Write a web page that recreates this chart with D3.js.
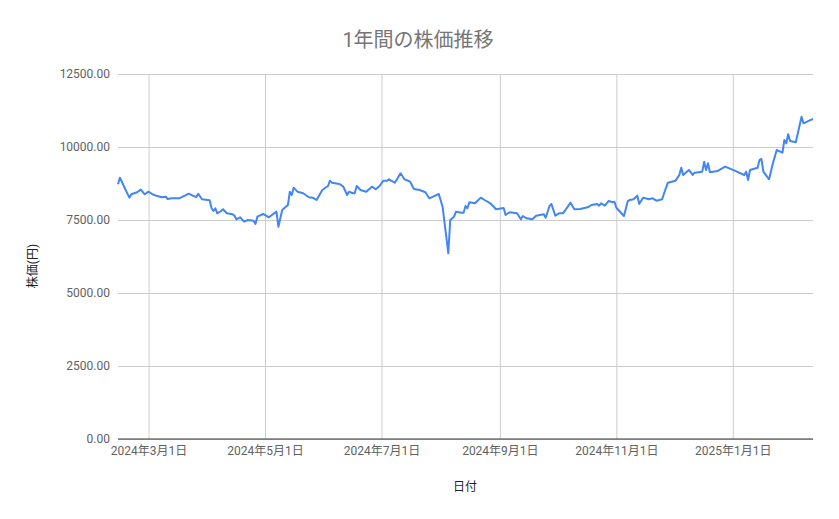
<!DOCTYPE html>
<html>
<head>
<meta charset="utf-8">
<script src="https://cdn.jsdelivr.net/npm/d3@7"></script>
<style>
  body { margin: 0; background: #fff; }
  text { font-family: Roboto, "Noto Sans CJK JP", sans-serif; }
</style>
</head>
<body>
<div id="chart"></div>
<script>
// daily closing values
const dates = [
  "2024-02-14","2024-02-15","2024-02-16","2024-02-18","2024-02-20","2024-02-21","2024-02-24","2024-02-26","2024-02-28",
  "2024-03-01","2024-03-03","2024-03-05","2024-03-08","2024-03-10","2024-03-11","2024-03-13","2024-03-17","2024-03-20",
  "2024-03-22","2024-03-25","2024-03-26","2024-03-27","2024-03-29","2024-03-31",
  "2024-04-02","2024-04-03","2024-04-04","2024-04-05","2024-04-06","2024-04-08","2024-04-09","2024-04-11","2024-04-14",
  "2024-04-15","2024-04-16","2024-04-18","2024-04-20","2024-04-22","2024-04-25","2024-04-26","2024-04-27","2024-04-30",
  "2024-05-03","2024-05-07","2024-05-08","2024-05-10","2024-05-13","2024-05-14","2024-05-15","2024-05-16","2024-05-18",
  "2024-05-21","2024-05-24","2024-05-26","2024-05-28","2024-05-31",
  "2024-06-02","2024-06-03","2024-06-04","2024-06-05","2024-06-09","2024-06-11","2024-06-13","2024-06-14","2024-06-16",
  "2024-06-17","2024-06-18","2024-06-20","2024-06-23","2024-06-26","2024-06-28","2024-06-30",
  "2024-07-02","2024-07-04","2024-07-05","2024-07-06","2024-07-08","2024-07-11","2024-07-13","2024-07-16","2024-07-18",
  "2024-07-21","2024-07-24","2024-07-26","2024-07-28","2024-07-31",
  "2024-08-02","2024-08-05","2024-08-06","2024-08-08","2024-08-09","2024-08-12","2024-08-13","2024-08-14","2024-08-15",
  "2024-08-16","2024-08-19","2024-08-22","2024-08-24","2024-08-27","2024-08-30",
  "2024-09-03","2024-09-04","2024-09-06","2024-09-10","2024-09-12","2024-09-13","2024-09-15","2024-09-18","2024-09-20",
  "2024-09-24","2024-09-25","2024-09-27","2024-09-28","2024-09-30",
  "2024-10-02","2024-10-04","2024-10-05","2024-10-08","2024-10-10","2024-10-13","2024-10-17","2024-10-19","2024-10-22",
  "2024-10-23","2024-10-24","2024-10-26","2024-10-28","2024-10-30","2024-10-31",
  "2024-11-01","2024-11-05","2024-11-07","2024-11-08","2024-11-10","2024-11-12","2024-11-13","2024-11-15","2024-11-18",
  "2024-11-20","2024-11-22","2024-11-25","2024-11-26","2024-11-28",
  "2024-12-02","2024-12-04","2024-12-05","2024-12-06","2024-12-09","2024-12-11","2024-12-12","2024-12-16","2024-12-17",
  "2024-12-18","2024-12-19","2024-12-20","2024-12-24","2024-12-25","2024-12-28",
  "2025-01-02","2025-01-07","2025-01-08","2025-01-09","2025-01-10","2025-01-14","2025-01-15","2025-01-16","2025-01-17",
  "2025-01-20","2025-01-22","2025-01-24","2025-01-27","2025-01-28","2025-01-29","2025-01-30","2025-01-31",
  "2025-02-03","2025-02-06","2025-02-07","2025-02-10","2025-02-12"
];
const prices = [
  8723,8949,8812,8528,8265,8381,8449,8538,8381,
  8470,8381,8333,8278,8299,8219,8243,8243,8333,
  8401,8312,8288,8401,8209,8196,
  8175,7901,7808,7901,7730,7808,7866,7730,7696,
  7648,7524,7593,7442,7500,7476,7363,7613,7706,
  7593,7785,7271,7843,8014,8470,8356,8607,8470,
  8415,8278,8265,8185,8528,
  8620,8665,8847,8778,8733,8641,8356,8470,8415,
  8415,8665,8528,8470,8641,8552,8665,
  8847,8847,8894,8847,8778,9100,8894,8812,8562,
  8528,8449,8243,8299,8391,
  7956,6360,7500,7613,7785,7751,7751,7980,7901,
  8106,8072,8265,8185,8072,7866,
  7911,7671,7764,7730,7524,7637,7558,7524,7648,
  7696,7579,7980,8048,7648,
  7730,7730,7808,8093,7866,7877,7935,8014,8048,
  7990,8072,7990,8151,8106,8127,
  7921,7637,8150,8185,8209,8333,8048,8265,8209,
  8243,8162,8209,8415,8778,
  8847,9042,9292,9042,9213,9042,9120,9155,9497,
  9213,9442,9134,9178,9213,9326,
  9189,9042,9155,8870,9213,9292,9555,9589,9155,
  8894,9442,9897,9805,10240,10127,10435,10206,
  10161,11038,10812,10901,10959
];
const yTicks = [0, 2500, 5000, 7500, 10000, 12500];
const xTicks = ["2024-03-01","2024-05-01","2024-07-01","2024-09-01","2024-11-01","2025-01-01"];
const xDomain = ["2024-02-14","2025-02-12"];

const W = 839, H = 519;
const margin = {left: 118, right: 26, top: 74, bottom: 80};
const parse = d3.timeParse("%Y-%m-%d");

const data = dates.map((d, i) => ({date: parse(d), value: prices[i]}));

const svg = d3.select("#chart").append("svg")
    .attr("width", W)
    .attr("height", H);

const x = d3.scaleTime()
    .domain(xDomain.map(parse))
    .range([margin.left, W - margin.right]);
const y = d3.scaleLinear()
    .domain([0, 12500])
    .range([H - margin.bottom, margin.top]);

// title
svg.append("text")
    .attr("x", 418)
    .attr("y", 47)
    .attr("text-anchor", "middle")
    .attr("font-size", "20px")
    .attr("fill", "#757575")
    .text("1年間の株価推移");

// horizontal grid + y labels
const yAxis = svg.append("g")
    .attr("transform", "translate(" + margin.left + ",0)")
    .call(d3.axisLeft(y).tickValues(yTicks)
        .tickSize(-(W - margin.left - margin.right))
        .tickPadding(8)
        .tickFormat(d3.format(".2f")));
yAxis.select(".domain").remove();
yAxis.selectAll("line").attr("stroke", "#cccccc");
yAxis.selectAll("text")
    .attr("fill", "#616161")
    .attr("font-size", "12px");

// vertical grid + x labels
const xAxis = svg.append("g")
    .attr("transform", "translate(0," + (H - margin.bottom) + ")")
    .call(d3.axisBottom(x).tickValues(xTicks.map(parse))
        .tickSize(-(H - margin.top - margin.bottom))
        .tickPadding(7)
        .tickFormat(d3.timeFormat("%Y年%-m月%-d日")));
xAxis.select(".domain").remove();
xAxis.selectAll("line").attr("stroke", "#cccccc");
xAxis.selectAll("text")
    .attr("fill", "#616161")
    .attr("font-size", "12px");

// baseline
svg.append("line")
    .attr("x1", margin.left)
    .attr("x2", W - margin.right)
    .attr("y1", y(0))
    .attr("y2", y(0))
    .attr("stroke", "#333333")
    .attr("stroke-width", 1);

// axis titles
svg.append("text")
    .attr("x", 465)
    .attr("y", 491)
    .attr("text-anchor", "middle")
    .attr("font-size", "12px")
    .attr("fill", "#222")
    .text("日付");

svg.append("text")
    .attr("transform", "translate(37,266) rotate(-90)")
    .attr("text-anchor", "middle")
    .attr("font-size", "12px")
    .attr("fill", "#222")
    .text("株価(円)");

// price line
const line = d3.line()
    .x(d => x(d.date))
    .y(d => y(d.value));

svg.append("path")
    .datum(data)
    .attr("fill", "none")
    .attr("stroke", "#4285f4")
    .attr("stroke-width", 2)
    .attr("stroke-linejoin", "round")
    .attr("d", line);
</script>
</body>
</html>
